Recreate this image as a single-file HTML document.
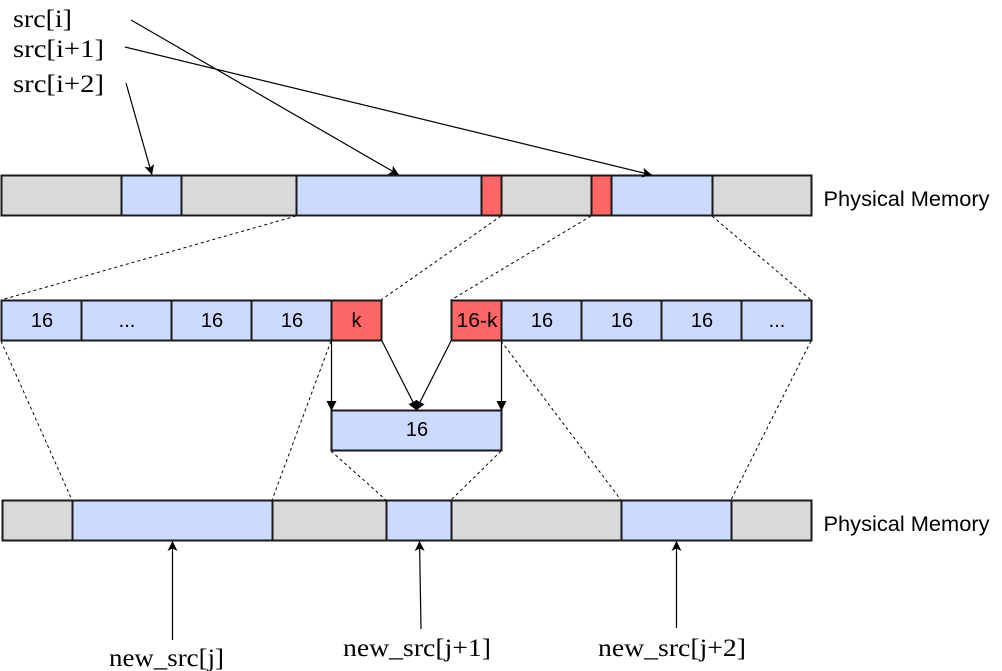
<!DOCTYPE html>
<html>
<head>
<meta charset="utf-8">
<style>
html,body{margin:0;padding:0;background:#fff;width:1002px;height:671px;overflow:hidden}
svg{display:block}
.g{fill:#d9d9d9}
.b{fill:#ccdaff}
.r{fill:#ff6666}
.o{fill:none;stroke:#1a1a1a;stroke-width:2}
.d{stroke:#000;stroke-width:1;stroke-dasharray:3 3;fill:none}
.a{stroke:#000;stroke-width:1.2;fill:none}
.s{font-family:"Liberation Sans",sans-serif;font-size:20px;fill:#000;text-anchor:middle}
.p{font-family:"Liberation Sans",sans-serif;font-size:21.500px;fill:#000}
.t{font-family:"Liberation Serif",serif;font-size:25px;fill:#000}
</style>
</head>
<body>
<svg width="1002" height="671" viewBox="0 0 1002 671" xmlns="http://www.w3.org/2000/svg">
<defs>
<marker id="m" markerUnits="userSpaceOnUse" markerWidth="12" markerHeight="12" refX="10" refY="5" orient="auto">
<path d="M0 0 L10 5 L0 10 L2.5 5 Z" fill="#000"/>
</marker>
<marker id="n" markerUnits="userSpaceOnUse" markerWidth="12" markerHeight="12" refX="9" refY="5" orient="auto">
<path d="M0 0 L10 5 L0 10 Z" fill="#000"/>
</marker>
</defs>

<!-- dashed zoom lines -->
<path class="d" d="M296 216L1 300M501 216L381 300M591 216L451 300M712 216L811 300"/>
<path class="d" d="M1 341L72 500M331 341L272 500M331 451L386 500M501 451L451 500M501 341L621 500M811 341L731 500"/>

<!-- top bar -->
<rect class="g" x="1.5" y="175.5" width="810" height="40"/>
<rect class="b" x="121.5" y="175.5" width="60" height="40"/>
<rect class="b" x="296.5" y="175.5" width="185" height="40"/>
<rect class="r" x="481.5" y="175.5" width="20" height="40"/>
<rect class="r" x="591.5" y="175.5" width="20" height="40"/>
<rect class="b" x="611.5" y="175.5" width="101" height="40"/>
<rect class="o" x="1.5" y="175.5" width="810" height="40"/>
<path class="o" d="M121.5 175V216M181.5 175V216M296.5 175V216M481.5 175V216M501.5 175V216M591.5 175V216M611.5 175V216M712.5 175V216"/>

<!-- middle row -->
<rect class="b" x="1.5" y="300.5" width="330" height="40"/>
<rect class="r" x="331.5" y="300.5" width="50" height="40"/>
<rect class="r" x="451.5" y="300.5" width="50" height="40"/>
<rect class="b" x="501.5" y="300.5" width="310" height="40"/>
<rect class="o" x="1.5" y="300.5" width="380" height="40"/>
<rect class="o" x="451.5" y="300.5" width="360" height="40"/>
<path class="o" d="M81.5 300V341M171.5 300V341M251.5 300V341M331.5 300V341M501.5 300V341M581.5 300V341M661.5 300V341M741.5 300V341"/>

<!-- merged box -->
<rect class="b" x="331.5" y="410.5" width="170" height="40"/>
<rect class="o" x="331.5" y="410.5" width="170" height="40"/>

<!-- bottom bar -->
<rect class="g" x="2.5" y="500.5" width="809" height="40"/>
<rect class="b" x="72.5" y="500.5" width="200" height="40"/>
<rect class="b" x="386.5" y="500.5" width="65" height="40"/>
<rect class="b" x="621.5" y="500.5" width="110" height="40"/>
<rect class="o" x="2.5" y="500.5" width="809" height="40"/>
<path class="o" d="M72.5 500V541M272.5 500V541M386.5 500V541M451.5 500V541M621.5 500V541M731.5 500V541"/>

<!-- arrows -->
<line class="a" x1="131" y1="20" x2="399" y2="175" marker-end="url(#m)"/>
<line class="a" x1="125" y1="47" x2="652" y2="175" marker-end="url(#m)"/>
<line class="a" x1="126" y1="83" x2="152" y2="175" marker-end="url(#m)"/>
<line class="a" x1="331.5" y1="341" x2="331.5" y2="410" marker-end="url(#n)"/>
<line class="a" x1="501.5" y1="341" x2="501.5" y2="410" marker-end="url(#n)"/>
<line class="a" x1="382" y1="341" x2="417" y2="410" marker-end="url(#n)"/>
<line class="a" x1="451" y1="341" x2="416" y2="410" marker-end="url(#n)"/>
<line class="a" x1="172.500" y1="640" x2="172.500" y2="541" marker-end="url(#m)"/>
<line class="a" x1="421" y1="629" x2="419.500" y2="541" marker-end="url(#m)"/>
<line class="a" x1="676.500" y1="628" x2="676.500" y2="541" marker-end="url(#m)"/>

<!-- cell labels -->
<text class="s" x="42" y="327">16</text>
<text class="s" x="127" y="327">...</text>
<text class="s" x="212" y="327">16</text>
<text class="s" x="292" y="327">16</text>
<text class="s" x="356.500" y="327">k</text>
<text class="s" x="477" y="327" textLength="41" lengthAdjust="spacingAndGlyphs">16-k</text>
<text class="s" x="542" y="327">16</text>
<text class="s" x="622" y="327">16</text>
<text class="s" x="702" y="327">16</text>
<text class="s" x="777" y="327">...</text>
<text class="s" x="417" y="436">16</text>

<text class="p" x="823.500" y="206" textLength="166" lengthAdjust="spacingAndGlyphs">Physical Memory</text>
<text class="p" x="823.500" y="531" textLength="166" lengthAdjust="spacingAndGlyphs">Physical Memory</text>

<!-- serif labels -->
<text class="t" x="13" y="27" textLength="59" lengthAdjust="spacingAndGlyphs">src[i]</text>
<text class="t" x="13" y="57" textLength="91" lengthAdjust="spacingAndGlyphs">src[i+1]</text>
<text class="t" x="13" y="92" textLength="91" lengthAdjust="spacingAndGlyphs">src[i+2]</text>
<text class="t" x="109" y="666" textLength="115" lengthAdjust="spacingAndGlyphs">new_src[j]</text>
<text class="t" x="343" y="656" textLength="148" lengthAdjust="spacingAndGlyphs">new_src[j+1]</text>
<text class="t" x="598" y="656" textLength="148" lengthAdjust="spacingAndGlyphs">new_src[j+2]</text>
</svg>
</body>
</html>
